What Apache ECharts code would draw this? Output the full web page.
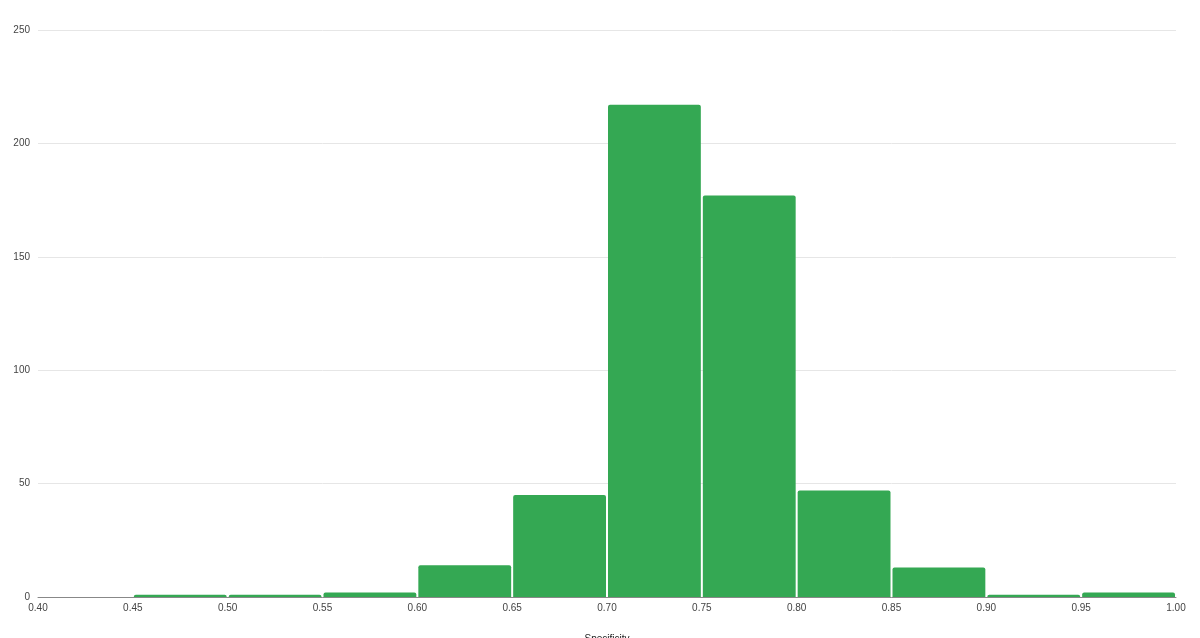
<!DOCTYPE html>
<html>
<head>
<meta charset="utf-8">
<title>Specificity</title>
<script src="https://cdn.jsdelivr.net/npm/echarts@6/dist/echarts.min.js"></script>
<style>
    html, body { margin: 0; padding: 0; background: #fff; }
    #chart { width: 1200px; height: 638px; }
</style>
</head>
<body>
<div id="chart"></div>
<script>
// histogram bins (left edges), bin width and counts
var binStarts = [0.40, 0.45, 0.50, 0.55, 0.60, 0.65, 0.70, 0.75, 0.80, 0.85, 0.90, 0.95];
var binWidth = 0.05;
var counts = [0, 1, 1, 2, 14, 45, 217, 177, 47, 13, 1, 2];
var yTicks = [0, 50, 100, 150, 200, 250];

var bins = binStarts.map(function (s, i) {
    return [s, +(s + binWidth).toFixed(2), counts[i]];
});

var chart = echarts.init(document.getElementById('chart'), null, { renderer: 'canvas' });

chart.setOption({
    animation: false,
    grid: { left: 38, right: 24, top: 30, bottom: 41, containLabel: false, outerBoundsMode: 'none' },
    xAxis: {
        type: 'value',
        min: 0.40,
        max: 1.00,
        interval: 0.05,
        name: 'Specificity',
        nameLocation: 'middle',
        nameGap: 37,
        nameTextStyle: { color: '#222', fontSize: 10, fontFamily: 'Liberation Sans' },
        axisLine: { show: true, lineStyle: { color: '#888', width: 1 } },
        axisTick: { show: false },
        splitLine: { show: false },
        axisLabel: {
            color: '#444',
            fontSize: 10,
            fontFamily: 'Liberation Sans',
            margin: 6,
            formatter: function (v) { return v.toFixed(2); }
        }
    },
    yAxis: {
        type: 'value',
        min: yTicks[0],
        max: yTicks[yTicks.length - 1],
        interval: 50,
        axisLine: { show: false },
        axisTick: { show: false },
        splitLine: { lineStyle: { color: '#e6e6e6', width: 1 } },
        axisLabel: { color: '#444', fontSize: 10, fontFamily: 'Liberation Sans', margin: 8 }
    },
    series: [{
        type: 'custom',
        data: bins,
        encode: { x: [0, 1], y: 2 },
        renderItem: function (params, api) {
            var topLeft = api.coord([api.value(0), api.value(2)]);
            var bottomRight = api.coord([api.value(1), 0]);
            var h = bottomRight[1] - topLeft[1];
            if (api.value(2) <= 0) return null;
            return {
                type: 'rect',
                shape: {
                    x: topLeft[0] + 1,
                    y: topLeft[1],
                    width: bottomRight[0] - topLeft[0] - 2,
                    height: h,
                    r: [2, 2, 0, 0]
                },
                style: { fill: '#34a853' }
            };
        }
    }]
});
</script>
</body>
</html>
